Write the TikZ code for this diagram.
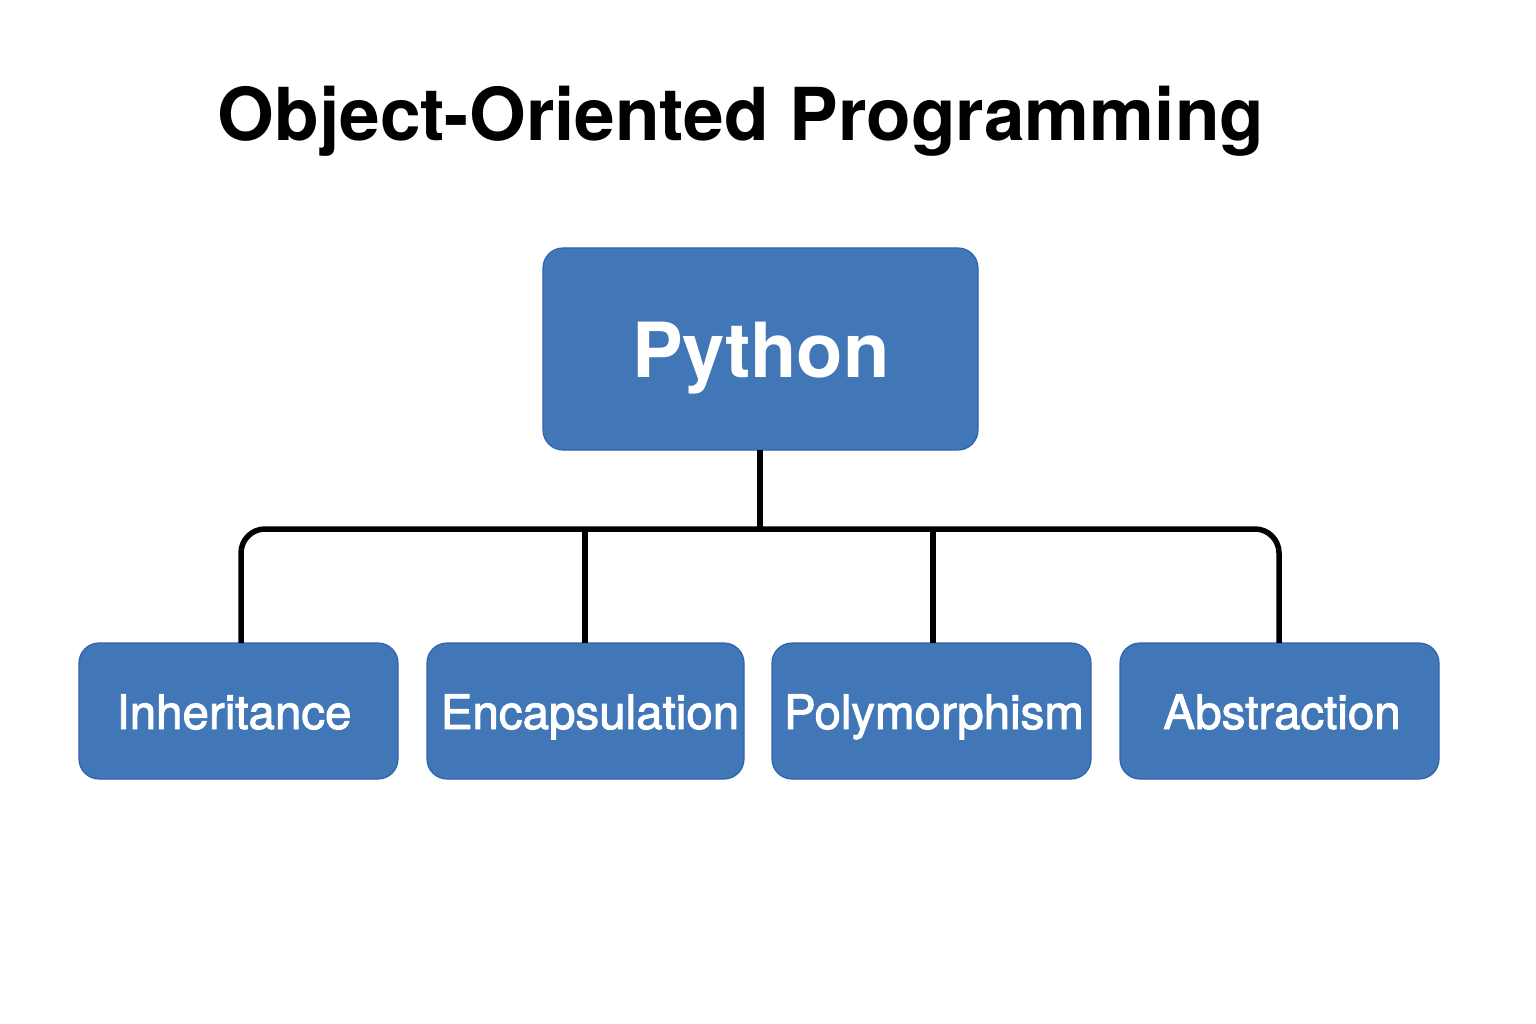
\documentclass[tikz,border=0pt]{standalone}
\usepackage{fontspec}
\setmainfont{TeX Gyre Heros}
\newfontfamily\labfont[FakeBold=2]{TeX Gyre Heros}
\definecolor{boxfill}{HTML}{4176B7}
\definecolor{boxedge}{HTML}{2F63AE}
\begin{document}
\begin{tikzpicture}[x=1pt,y=-1pt,
  box/.style={draw=boxedge, line width=1.2pt, fill=boxfill, rounded corners=20pt},
  lab/.style={text=white, font=\labfont\fontsize{47.5}{52}\selectfont, inner sep=0pt, anchor=base},
  conn/.style={line width=5.5pt, draw=black}]
\useasboundingbox (0,0) rectangle (1536,1024);
\node[font=\bfseries\fontsize{73}{80}\selectfont, anchor=base, inner sep=0pt] (title) at (741,141) {Object-Oriented Programming};
% top box
\draw[box] (543,248) rectangle (978,450);
\node[text=white, font=\bfseries\fontsize{76}{84}\selectfont, inner sep=0pt, anchor=base] (python) at (761,377) {Python};
\coordinate (ptop) at (760,450);
% bottom boxes
\draw[box] (79,643) rectangle (398,779);
\draw[box] (427,643) rectangle (744,779);
\draw[box] (772,643) rectangle (1091,779);
\draw[box] (1120,643) rectangle (1439,779);
\node[lab] (inh) at (234,729) {Inheritance};
\node[lab] (enc) at (590,729) {Encapsulation};
\node[lab] (pol) at (934,729) {Polymorphism};
\node[lab] (abs) at (1282,729) {Abstraction};
\coordinate (j) at (760,529);
\coordinate (b1) at (241,643);
\coordinate (b2) at (585,643);
\coordinate (b3) at (933,643);
\coordinate (b4) at (1279,643);
\draw[conn] (ptop) -- (j);
\draw[conn, rounded corners=24pt] (b1) |- (j) -| (b4);
\draw[conn] (b2) -- (b2 |- j);
\draw[conn] (b3) -- (b3 |- j);
\end{tikzpicture}
\end{document}
